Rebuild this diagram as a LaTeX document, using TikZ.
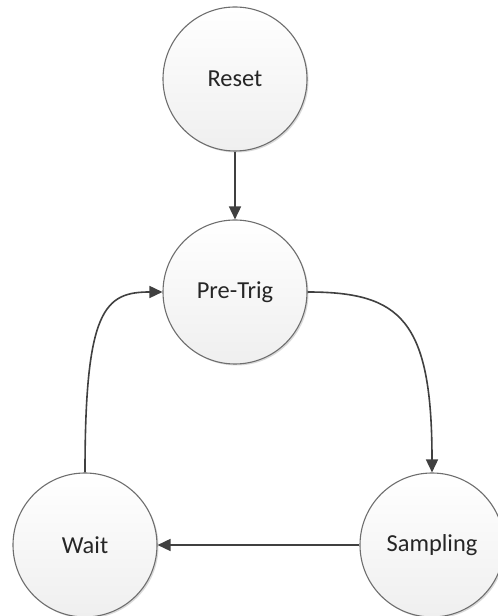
\documentclass[tikz,border=0pt]{standalone}
\usepackage{fontspec}
\setmainfont{Carlito}
\usetikzlibrary{arrows.meta,shadows}
\definecolor{ringgray}{HTML}{6E6E6E}
\definecolor{wiregray}{HTML}{404040}
\definecolor{filltop}{HTML}{FFFFFF}
\definecolor{fillbot}{HTML}{EFEFEF}
\begin{document}
\begin{tikzpicture}[x=1bp,y=1bp,
  state/.style={circle, minimum size=144bp, inner sep=0pt,
    draw=ringgray, line width=1.1bp,
    top color=filltop, bottom color=fillbot,
    drop shadow={shadow xshift=1.5bp, shadow yshift=-1.5bp, opacity=0.15, fill=black},
    font=\fontsize{24.5}{29}\selectfont, text=black!85},
  wire/.style={draw=wiregray, line width=1.6bp,
    -{Triangle[length=13bp,width=12bp]}}]
  \useasboundingbox (0,0) rectangle (498,616);

  \node[state] (reset)    at (235,537) {Reset};
  \node[state] (pretrig)  at (235,324) {Pre-Trig};
  \node[state] (wait)     at (85,71)   {Wait};
  \node[state] (sampling) at (432,71)  {Sampling};

  \draw[wire] (reset.south) -- (pretrig.north);
  \draw[wire] (pretrig.east) .. controls +(93,0) and +(0,153) .. (sampling.north);
  \draw[wire] (sampling.west) -- (wait.east);
  \draw[wire] (wait.north) .. controls +(0,163) and +(-58,0) .. (pretrig.west);
\end{tikzpicture}
\end{document}
